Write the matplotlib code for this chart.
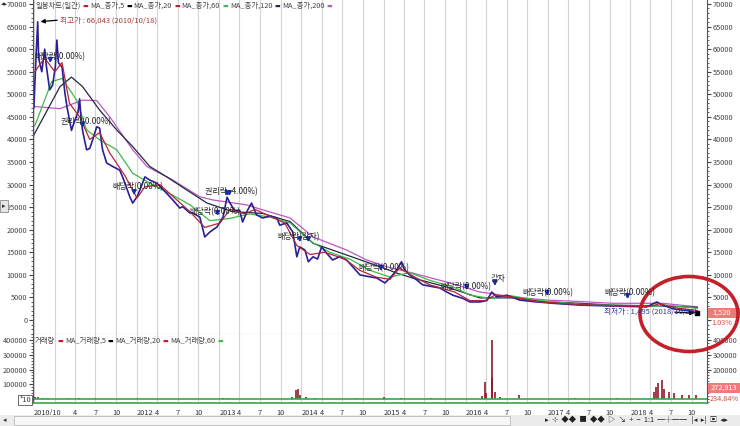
import matplotlib.pyplot as plt
import pandas as pd
from matplotlib.patches import Ellipse, Rectangle
from matplotlib.ticker import MultipleLocator

plt.rcParams['font.family'] = ['Noto Sans CJK KR', 'DejaVu Sans']
plt.rcParams['axes.unicode_minus'] = False

# daily close
price_dates = ['2010-10-01', '2010-10-05', '2010-10-12', '2010-10-18', '2010-10-22', '2010-11-05',
               '2010-11-18', '2010-11-26', '2010-12-10', '2010-12-23', '2011-01-04', '2011-01-11',
               '2011-01-18', '2011-02-03', '2011-02-16', '2011-02-25', '2011-03-08', '2011-03-17',
               '2011-03-30', '2011-04-15', '2011-04-22', '2011-04-28', '2011-05-05', '2011-05-23',
               '2011-06-06', '2011-06-19', '2011-07-07', '2011-07-20', '2011-08-02', '2011-08-20',
               '2011-09-16', '2011-10-17', '2011-10-30', '2011-12-01', '2011-12-14', '2012-01-02',
               '2012-01-15', '2012-02-06', '2012-02-28', '2012-03-30', '2012-04-25', '2012-06-09',
               '2012-07-10', '2012-07-23', '2012-08-24', '2012-09-06', '2012-10-07', '2012-10-29',
               '2012-11-21', '2012-12-22', '2013-01-18', '2013-02-05', '2013-02-18', '2013-03-10',
               '2013-04-02', '2013-04-15', '2013-05-07', '2013-05-25', '2013-06-16', '2013-07-13',
               '2013-08-14', '2013-09-14', '2013-09-27', '2013-10-28', '2013-11-24', '2013-12-12',
               '2013-12-25', '2014-01-17', '2014-02-01', '2014-02-22', '2014-03-14', '2014-04-01',
               '2014-04-23', '2014-05-20', '2014-06-20', '2014-07-21', '2014-08-17', '2014-09-18',
               '2014-10-18', '2014-12-02', '2015-01-07', '2015-01-30', '2015-03-01', '2015-03-22',
               '2015-04-05', '2015-04-27', '2015-05-28', '2015-06-24', '2015-07-25', '2015-09-08',
               '2015-10-09', '2015-11-05', '2015-12-19', '2016-01-20', '2016-03-04', '2016-04-04',
               '2016-04-26', '2016-05-18', '2016-07-02', '2016-08-29', '2016-11-13', '2017-01-24',
               '2017-05-22', '2017-10-16', '2018-03-15', '2018-04-29', '2018-05-25', '2018-07-09',
               '2018-08-22', '2018-09-23', '2018-10-26']
price_close = [47000, 52000, 60000, 66043, 58000, 55000,
               60000, 56000, 51000, 52000, 56000, 62000,
               57000, 56000, 50200, 47200, 44300, 42000,
               44000, 46000, 49000, 45000, 42000, 37700,
               38000, 39900, 42800, 42500, 37700, 34800,
               34000, 33200, 31700, 27300, 25900, 27300,
               28800, 31700, 31000, 30300, 29000, 26600,
               24800, 25100, 23700, 23700, 22800, 18400,
               19500, 20600, 22800, 27200, 25900, 24300,
               24300, 21700, 24300, 25900, 23300, 22600,
               23000, 22600, 21000, 21500, 19500, 14000,
               16200, 15500, 12900, 14000, 13500, 16200,
               14800, 13300, 14000, 13300, 11800, 10000,
               9700, 9300, 8200, 9300, 11100, 12900,
               11100, 10000, 8900, 7800, 7500, 7100,
               6200, 5500, 4800, 4000, 4000, 4300,
               6200, 5100, 5500, 4400, 4000, 3700,
               3300, 3100, 2900, 4000, 3300, 2500,
               2200, 2000, 1520]

ma20_dates = ['2010-10-05', '2010-11-18', '2011-01-02', '2011-02-03', '2011-03-08', '2011-04-22',
              '2011-06-06', '2011-07-20', '2011-09-03', '2011-11-09', '2012-01-02', '2012-02-06',
              '2012-04-12', '2012-06-18', '2012-08-24', '2012-10-29', '2013-01-05', '2013-02-18',
              '2013-04-25', '2013-06-09', '2013-08-14', '2013-10-19', '2013-12-12', '2014-02-09',
              '2014-04-15', '2014-07-13', '2014-09-18', '2014-11-29', '2015-01-30', '2015-03-13',
              '2015-05-20', '2015-07-25', '2015-11-13', '2016-01-20', '2016-03-26', '2016-05-10',
              '2016-07-16', '2016-11-27', '2017-05-22', '2017-11-16', '2018-03-28', '2018-05-12',
              '2018-07-19', '2018-10-26']
ma20 = [55000, 58000, 55000, 57000, 48000, 45000,
        40000, 41500, 37000, 32000, 27000, 29500,
        30000, 27000, 24000, 20500, 21500, 24500,
        23500, 24500, 23000, 21500, 16500, 14500,
        15000, 13500, 11000, 9500, 9000, 11500,
        9500, 7800, 6200, 4300, 4300, 5500,
        5200, 4000, 3400, 3100, 3000, 3600,
        2700, 2100]

ma60_dates = ['2010-10-05', '2010-12-19', '2011-02-03', '2011-04-09', '2011-05-23', '2011-07-20',
              '2011-10-04', '2011-12-14', '2012-02-28', '2012-05-26', '2012-08-25', '2012-11-21',
              '2013-02-18', '2013-05-16', '2013-08-14', '2013-11-12', '2014-02-09', '2014-05-07',
              '2014-08-04', '2014-11-02', '2015-01-30', '2015-04-27', '2015-07-25', '2015-11-13',
              '2016-01-20', '2016-04-18', '2016-07-16', '2016-11-27', '2017-05-22', '2017-11-16',
              '2018-03-28', '2018-06-04', '2018-10-26']
ma60 = [43000, 52800, 53500, 48700, 42100, 39900,
        37700, 32500, 30300, 28000, 25500, 22000,
        22500, 23500, 22800, 21500, 17500, 15000,
        13500, 11000, 9500, 10500, 8800, 7200,
        5500, 4800, 5400, 4300, 3500, 3200,
        3000, 3300, 2600]

ma120_dates = ['2010-10-01', '2011-01-25', '2011-03-17', '2011-05-05', '2011-07-20', '2011-10-04',
               '2011-12-14', '2012-02-28', '2012-05-13', '2012-08-10', '2012-11-08', '2013-03-02',
               '2013-07-13', '2013-11-12', '2014-02-22', '2014-07-21', '2014-12-16', '2015-03-01',
               '2015-05-10', '2015-10-09', '2016-03-04', '2016-07-28', '2016-12-28', '2017-05-22',
               '2017-10-16', '2018-05-25', '2018-10-26']
ma120 = [41000, 51700, 53800, 51700, 46500, 42100,
         38400, 34000, 31700, 28800, 25900, 24000,
         23600, 21800, 17000, 14400, 11800, 10400,
         9300, 7300, 4900, 4900, 4000, 3700,
         3300, 3100, 2800]

ma200_dates = ['2010-10-01', '2011-01-25', '2011-05-05', '2011-07-07', '2011-09-03', '2011-12-14',
               '2012-02-15', '2012-06-09', '2012-10-07', '2012-12-03', '2013-05-03', '2013-07-13',
               '2013-11-12', '2014-02-22', '2014-07-21', '2014-10-18', '2015-01-15', '2015-05-10',
               '2015-10-09', '2016-03-04', '2016-04-18', '2016-07-28', '2016-12-28', '2017-05-22',
               '2017-10-16', '2018-05-25', '2018-10-26']
ma200 = [47300, 46800, 48700, 48600, 45000, 37700,
         34000, 31000, 27300, 26600, 25500, 24400,
         22600, 18400, 15500, 13300, 11800, 10400,
         8400, 6200, 5900, 5100, 4400, 4100,
         3700, 3700, 2900]

# volume spikes
vol_dates = ['2010-10-04', '2010-10-18', '2010-11-10', '2010-12-01', '2011-03-01', '2011-04-20',
             '2011-07-01', '2012-01-01', '2012-08-01', '2013-01-20', '2013-02-10', '2013-11-20',
             '2013-12-10', '2013-12-15', '2013-12-25', '2014-01-20', '2014-03-01', '2014-09-01',
             '2015-01-01', '2015-03-20', '2015-08-01', '2016-03-15', '2016-03-25', '2016-04-01',
             '2016-04-26', '2016-04-28', '2016-05-10', '2016-06-01', '2016-08-25', '2017-05-01',
             '2017-11-01', '2018-04-15', '2018-04-25', '2018-05-05', '2018-05-20', '2018-06-01',
             '2018-06-20', '2018-07-15', '2018-08-20', '2018-09-20', '2018-10-20']
vol = [12000, 15000, 9000, 8000, 6000, 10000,
       5000, 4000, 3000, 8000, 6000, 15000,
       60000, 65000, 30000, 15000, 8000, 5000,
       12000, 10000, 6000, 20000, 115000, 40000,
       400000, 140000, 50000, 15000, 25000, 10000,
       5000, 50000, 80000, 110000, 130000, 70000,
       50000, 40000, 30000, 25000, 25000]

# corporate events (arrow tips)
event_dates = ['2010-12-13', '2011-05-05', '2011-12-20', '2013-02-05', '2013-02-15', '2012-12-25',
               '2013-12-25', '2014-02-01', '2014-12-20', '2016-01-05', '2016-05-10', '2016-12-28',
               '2017-12-20']
event_tips = [56300, 42000, 27000, 26800, 26800, 22400,
              16600, 16600, 10200, 6000, 6900, 4700,
              4000]
event_labels = ['배당락(0.00%)', '권리락(0.00%)', '배당락(0.00%)', '권리락 -4.00%)', '배당락(0.00%)',
                '배당락(감자)', '배당락(0.00%)', '배당락(0.00%)', '감자', '배당락(0.00%)', '배당락(0.00%)']

high_date, high_val = '2010-10-18', 66043
low_date, low_val = '2018-10-26', 1495


def fx(x):
    return x / 740


def fy(y):
    return 1 - y / 426


fig = plt.figure(figsize=(7.4, 4.26), dpi=100)
fig.patch.set_facecolor('white')
ax = fig.add_axes([fx(33), fy(334), fx(674), 334 / 426])
axv = fig.add_axes([fx(33), fy(403), fx(674), (403 - 334) / 426], sharex=ax)

ax.plot(pd.to_datetime(ma200_dates), ma200, color='#c055c8', lw=0.9)
ax.plot(pd.to_datetime(ma120_dates), ma120, color='#1f2940', lw=0.9)
ax.plot(pd.to_datetime(ma60_dates), ma60, color='#3dbb45', lw=0.9)
ax.plot(pd.to_datetime(price_dates), price_close, color='#2a1f95', lw=1.2)
ax.plot(pd.to_datetime(ma20_dates), ma20, color='#b3263a', lw=0.9)

for d, p in zip(pd.to_datetime(event_dates), event_tips):
    ax.annotate('', xy=(d, p), xytext=(d, p + 2300),
                arrowprops=dict(arrowstyle='-|>', color='#1830b0', lw=1.3, mutation_scale=6))

ax.annotate('', xy=(pd.Timestamp(high_date), high_val), xytext=(fx(60), fy(20)),
            textcoords='figure fraction',
            arrowprops=dict(arrowstyle='-|>', color='black', lw=0.9, mutation_scale=6))
ax.annotate('', xy=(pd.Timestamp(low_date), low_val), xytext=(fx(672), fy(312)),
            textcoords='figure fraction',
            arrowprops=dict(arrowstyle='-|>', color='black', lw=0.9, mutation_scale=6))
ax.plot([pd.Timestamp(low_date)], [low_val], marker='s', ms=2.5, color='black')

axv.vlines(pd.to_datetime(vol_dates), 0, vol, color='#8a1c28', lw=1.2)
axv.axhline(0, color='#3aa845', lw=1.2)

# axes styling
x_left, x_right = pd.Timestamp('2010-09-27'), pd.Timestamp('2018-12-08')
ax.set_xlim(x_left, x_right)
ax.set_ylim(-3100, 70880)
axv.set_ylim(-27100, 440700)

quarters = pd.date_range('2010-10-01', '2018-10-01', freq='3MS')
qlabels = []
for q in quarters:
    if q == quarters[0]:
        qlabels.append('2010/10')
    elif q.month == 1:
        qlabels.append('' if q.year == 2011 else str(q.year))
    else:
        qlabels.append(str(q.month))
axv.set_xticks(quarters)
axv.set_xticklabels(qlabels)
for lab, q in zip(axv.get_xticklabels(), quarters):
    if q.month == 1 or q == quarters[0]:
        lab.set_horizontalalignment('left')
axv.tick_params(axis='x', length=0, labelsize=5.3, colors='#333333', pad=4)
ax.tick_params(axis='x', labelbottom=False, length=0)

for a in (ax, axv):
    a.grid(axis='x', color='#d4d4d4', lw=0.8)
    a.set_axisbelow(True)
    a.spines['top'].set_visible(False)
    for s in ('left', 'right'):
        a.spines[s].set_color('#555555')
        a.spines[s].set_linewidth(0.8)
    a.tick_params(axis='y', which='both', left=True, right=True, labelleft=True, labelright=True,
                  direction='out', labelsize=5.3, colors='#444444', pad=1)
    a.tick_params(axis='y', which='major', length=3)
    a.tick_params(axis='y', which='minor', length=1.5)
ax.spines['bottom'].set_color('#999999')
axv.spines['bottom'].set_color('#3aa845')
axv.spines['bottom'].set_linewidth(1.2)

ax.set_yticks(range(0, 70001, 5000))
ax.yaxis.set_minor_locator(MultipleLocator(1000))
axv.set_yticks([100000, 200000, 300000, 400000])
axv.yaxis.set_minor_locator(MultipleLocator(20000))

# right-side labels that sit under the value boxes
for tick in ax.yaxis.get_major_ticks()[:1]:
    tick.label2.set_visible(False)
for tick in axv.yaxis.get_major_ticks()[:1]:
    tick.label2.set_visible(False)

# header legends, laid out left to right
renderer = fig.canvas.get_renderer()


def legend_row(pieces, x0, y):
    x = x0
    for txt, c in pieces:
        t = fig.text(fx(x), fy(y), txt, fontsize=5.3 if c is None else 4.3,
                     color=c or '#444444', va='center')
        x += t.get_window_extent(renderer).width + 2


legend_row([('일봉차트(일간)', None), ('▬', '#c0202a'), ('MA_종가,5', None), ('▬', 'black'),
            ('MA_종가,20', None), ('▬', '#c0202a'), ('MA_종가,60', None), ('▬', '#3dbb45'),
            ('MA_종가,120', None), ('▬', '#1f2940'), ('MA_종가,200', None), ('▬', '#c055c8')], 35, 6)
legend_row([('거래량', None), ('▬', '#c0202a'), ('MA_거래량,5', None), ('▬', 'black'),
            ('MA_거래량,20', None), ('▬', '#c0202a'), ('MA_거래량,60', None), ('▬', '#3dbb45')], 35, 341)

fig.text(fx(60), fy(21), '최고가 : 66,043 (2010/10/18)', fontsize=5.5, color='#a83a3a', va='center')
fig.text(fx(604), fy(312), '최저가 : 1,495 (2018/10/26)', fontsize=5.5, color='#2a3a9a', va='center')

label_pos = [(34, 57), (61, 122), (112, 187), (205, 192), (189, 212), (277, 237),
             (358, 268), (440, 287), (491, 279), (522, 293), (604, 293)]
for t, (x, y) in zip(event_labels, label_pos):
    fig.text(fx(x), fy(y), t, fontsize=5.8, color='#222222', va='center')

# right side value boxes
fig.add_artist(Rectangle((fx(708), fy(318)), fx(32), 10 / 426, transform=fig.transFigure,
                         color='#f07a7a', lw=0))
fig.text(fx(722), fy(313), '1,520', fontsize=5.3, color='white', ha='center', va='center')
fig.text(fx(722), fy(323), '1.03%', fontsize=5.3, color='#e04848', ha='center', va='center')
fig.add_artist(Rectangle((fx(708), fy(393)), fx(32), 10 / 426, transform=fig.transFigure,
                         color='#f07a7a', lw=0))
fig.text(fx(724), fy(388), '272,913', fontsize=5.3, color='white', ha='center', va='center')
fig.text(fx(724), fy(399), '234.84%', fontsize=5.3, color='#e04848', ha='center', va='center')

# small widgets
fig.text(fx(25), fy(400), '*10', fontsize=5.3, color='#333333', ha='center', va='center',
         bbox=dict(boxstyle='square,pad=0.15', fc='white', ec='#555555', lw=0.6))
fig.text(fx(4), fy(206), '▸', fontsize=5, color='#333333', ha='center', va='center',
         bbox=dict(boxstyle='square,pad=0.3', fc='#e6e6e6', ec='#888888', lw=0.6))
fig.text(fx(1), fy(4), '◂▸', fontsize=5, color='#333333', va='center')

fig.add_artist(Rectangle((0, 0), 1, 11 / 426, transform=fig.transFigure, color='#ececec', lw=0))
fig.add_artist(Rectangle((fx(14), fy(425)), fx(496), 9 / 426, transform=fig.transFigure,
                         fc='#f7f7f7', ec='#bbbbbb', lw=0.6))
fig.text(fx(5), fy(420), '◂', fontsize=5, color='#333333', ha='center', va='center')
fig.text(fx(545), fy(420), '▸  ⊹  ◆◆  ■  ◆◆  ▷  ↘  +  −  1:1  ─┼──   |◂  ▸|  ▣  ◂▸',
         fontsize=5.3, color='#222222', va='center')

# highlight circle
fig.add_artist(Ellipse((fx(689), fy(314)), fx(98), 75 / 426, transform=fig.transFigure,
                       fill=False, ec='#c4202a', lw=2.6))

fig.savefig('out.png', dpi=100)
